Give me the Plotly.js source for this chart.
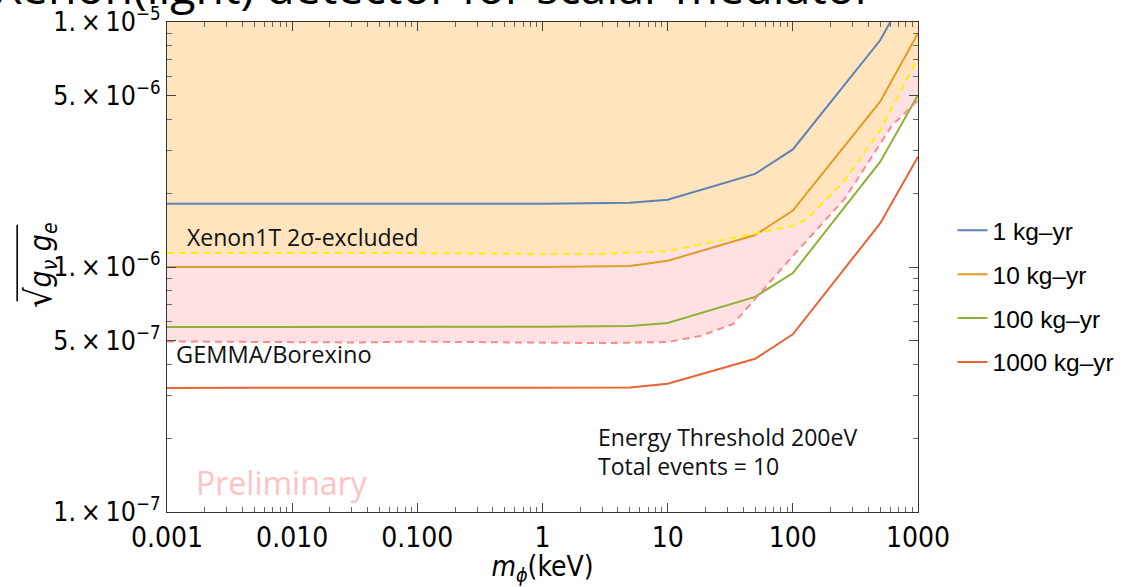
<!DOCTYPE html>
<html>
<head>
<meta charset="utf-8">
<script src="https://cdn.plot.ly/plotly-3.0.1.min.js"></script>
<style>html,body{margin:0;padding:0;background:#fff;}#chart{width:1132px;height:587px;}</style>
</head>
<body>
<div id="chart"></div>
<script>
// Mediator mass (keV) sample points
const massKeV = [0.001, 0.01, 0.1, 1, 5, 10, 50, 100, 500, 1000];
// Sensitivity curves sqrt(g_v g_e)
const exp1 = [1.81e-6, 1.81e-6, 1.81e-6, 1.81e-6, 1.83e-6, 1.88e-6, 2.40e-6, 3.02e-6, 8.44e-6, 1.6e-5];
const exp10 = [1.0e-6, 1.0e-6, 1.0e-6, 1.0e-6, 1.01e-6, 1.06e-6, 1.35e-6, 1.70e-6, 4.74e-6, 9.0e-6];
const exp100 = [5.69e-7, 5.69e-7, 5.69e-7, 5.70e-7, 5.75e-7, 5.91e-7, 7.55e-7, 9.45e-7, 2.69e-6, 5.04e-6];
const exp1000 = [3.21e-7, 3.21e-7, 3.21e-7, 3.21e-7, 3.22e-7, 3.34e-7, 4.22e-7, 5.31e-7, 1.51e-6, 2.82e-6];
// Xenon1T 2 sigma boundary
const xenonX = [0.001, 0.01, 0.1, 1, 2.87, 10, 50, 100, 130, 260, 500, 1000];
const xenonY = [1.14e-6, 1.14e-6, 1.14e-6, 1.13e-6, 1.13e-6, 1.16e-6, 1.37e-6, 1.47e-6, 1.57e-6, 2.25e-6, 3.61e-6, 7.12e-6];
// GEMMA/Borexino bound
const gemmaX = [0.001, 0.01, 0.03, 0.1, 1, 2.87, 10, 18.1, 33.2, 50, 100, 260, 620, 1000];
const gemmaY = [4.97e-7, 4.95e-7, 4.92e-7, 4.96e-7, 4.90e-7, 4.89e-7, 4.94e-7, 5.23e-7, 5.84e-7, 7.39e-7, 1.11e-6, 1.90e-6, 3.78e-6, 4.79e-6];
const legendNames = ['1 kg\u2013yr', '10 kg\u2013yr', '100 kg\u2013yr', '1000 kg\u2013yr'];
const yTickVals = [1e-7, 5e-7, 1e-6, 5e-6, 1e-5];
const yTickText = ['1.\u2009\u00d7\u200910<sup>\u22127</sup>', '5.\u2009\u00d7\u200910<sup>\u22127</sup>', '1.\u2009\u00d7\u200910<sup>\u22126</sup>', '5.\u2009\u00d7\u200910<sup>\u22126</sup>', '1.\u2009\u00d7\u200910<sup>\u22125</sup>'];
const xTickVals = [0.001, 0.01, 0.1, 1, 10, 100, 1000];
const xTickText = ['0.001', '0.010', '0.100', '1', '10', '100', '1000'];

const yTop = 1e-5; // axis top

function minorVals(lo, hi, skip) {
  const out = [];
  for (let e = lo; e < hi; e++) {
    for (let m = 2; m <= 9; m++) {
      if (skip && skip.indexOf(m) >= 0) continue;
      out.push(m * Math.pow(10, e));
    }
  }
  return out;
}

const colors = ['#5E81B5', '#E19C24', '#8FB032', '#EB6235'];
const series = [exp1, exp10, exp100, exp1000];

const traces = [];
// pink GEMMA/Borexino excluded region
traces.push({
  x: gemmaX.concat([gemmaX[gemmaX.length-1], gemmaX[0]]),
  y: gemmaY.concat([yTop, yTop]),
  mode: 'lines', fill: 'toself', fillcolor: '#FFE1E3',
  line: {width: 0}, hoverinfo: 'skip', showlegend: false
});
// orange Xenon1T excluded region
traces.push({
  x: xenonX.concat([xenonX[xenonX.length-1], xenonX[0]]),
  y: xenonY.concat([yTop, yTop]),
  mode: 'lines', fill: 'toself', fillcolor: '#FFE4BD',
  line: {width: 0}, hoverinfo: 'skip', showlegend: false
});
for (let i = 0; i < 4; i++) {
  traces.push({
    x: massKeV, y: series[i], name: legendNames[i], mode: 'lines',
    legendgroup: 'g' + i,
    line: {color: colors[i], width: 2}
  });
}
traces.push({x: xenonX, y: xenonY, mode: 'lines', showlegend: false,
  line: {color: '#FFF000', width: 2, dash: '7px,5px'}});
traces.push({x: gemmaX, y: gemmaY, mode: 'lines', showlegend: false,
  line: {color: '#FF8A8A', width: 2, dash: '7px,5px'}});

const narrow = '"Liberation Sans Narrow", "DejaVu Sans Condensed", Arial, sans-serif';
const calib = '"Open Sans", "Noto Sans", sans-serif';

const layout = {
  width: 1132, height: 587,
  margin: {l: 167, r: 214, t: 22, b: 75},
  paper_bgcolor: '#fff', plot_bgcolor: '#fff',
  showlegend: true,
  legend: {x: 1.046, y: 0.44, xanchor: 'left', yanchor: 'middle',
    font: {family: 'Arial, "Liberation Sans", sans-serif', size: 24.5, color: '#000'},
    itemwidth: 30, tracegroupgap: 9},
  xaxis: {
    type: 'log', range: [-3, 3], tickmode: 'array', tickvals: xTickVals, ticktext: xTickText,
    ticks: 'inside', ticklen: 9, tickwidth: 1, tickcolor: '#444',
    minor: {tickmode: 'array', tickvals: minorVals(-3, 3), ticks: 'inside', ticklen: 5, tickcolor: '#666', showgrid: false},
    showline: true, linecolor: '#333', linewidth: 1.2, mirror: 'allticks',
    showgrid: false, zeroline: false, tickfont: {family: narrow, size: 28, color: '#000'},
    title: {text: '<i>m</i><sub><i>\u03d5</i></sub>(keV)', font: {family: narrow, size: 28, color: '#000'}, standoff: 18}
  },
  yaxis: {
    type: 'log', range: [-7, -5], tickmode: 'array', tickvals: yTickVals, ticktext: yTickText,
    ticks: 'inside', ticklen: 9, tickwidth: 1, tickcolor: '#444',
    minor: {tickmode: 'array', tickvals: minorVals(-7, -5, [5]), ticks: 'inside', ticklen: 5, tickcolor: '#666', showgrid: false},
    showline: true, linecolor: '#333', linewidth: 1.2, mirror: 'allticks',
    showgrid: false, zeroline: false, tickfont: {family: narrow, size: 26.5, color: '#000'},
    title: {text: ''}
  },
  shapes: [
    // radical's overbar
    {type: 'line', xref: 'paper', yref: 'paper', x0: -0.1995, x1: -0.1995, y0: 0.43, y1: 0.586,
      line: {color: '#000', width: 1.6}}
  ],
  annotations: [
    {xref: 'paper', yref: 'paper', x: -0.01, y: 0.505, xanchor: 'center', yanchor: 'middle',
      text: '<span style="font-size:36px">\u221a</span><i>g<sub>\u03bd</sub> g<sub>e</sub></i>',
      textangle: -90, showarrow: false, xshift: -120,
      font: {family: narrow, size: 30, color: '#000'}},
    {xref: 'paper', yref: 'paper', x: 0, y: 1, xanchor: 'left', yanchor: 'bottom',
      text: 'Xenon(light) detector for scalar mediator', showarrow: false,
      xshift: -174, yshift: 2,
      font: {family: calib, size: 46.5, color: '#000'}},
    {xref: 'x', yref: 'paper', x: Math.log10(0.0014), y: 0.561, xanchor: 'left', yanchor: 'middle',
      text: 'Xenon1T 2\u03c3-excluded', showarrow: false, font: {family: calib, size: 23, color: '#111'}},
    {xref: 'x', yref: 'paper', x: Math.log10(0.00114), y: 0.323, xanchor: 'left', yanchor: 'middle',
      text: 'GEMMA/Borexino', showarrow: false, font: {family: calib, size: 23.6, color: '#111'}},
    {xref: 'x', yref: 'paper', x: Math.log10(2.7), y: 0.153, xanchor: 'left', yanchor: 'middle',
      text: 'Energy Threshold 200eV', showarrow: false, font: {family: calib, size: 23, color: '#111'}},
    {xref: 'x', yref: 'paper', x: Math.log10(2.7), y: 0.094, xanchor: 'left', yanchor: 'middle',
      text: 'Total events = 10', showarrow: false, font: {family: calib, size: 23, color: '#111'}},
    {xref: 'x', yref: 'paper', x: Math.log10(0.00165), y: 0.06, xanchor: 'left', yanchor: 'middle',
      text: 'Preliminary', showarrow: false,
      font: {family: calib, size: 32, color: '#FFC2C2'}}
  ]
};

Plotly.newPlot('chart', traces, layout, {displayModeBar: false, staticPlot: true});
</script>
</body>
</html>
